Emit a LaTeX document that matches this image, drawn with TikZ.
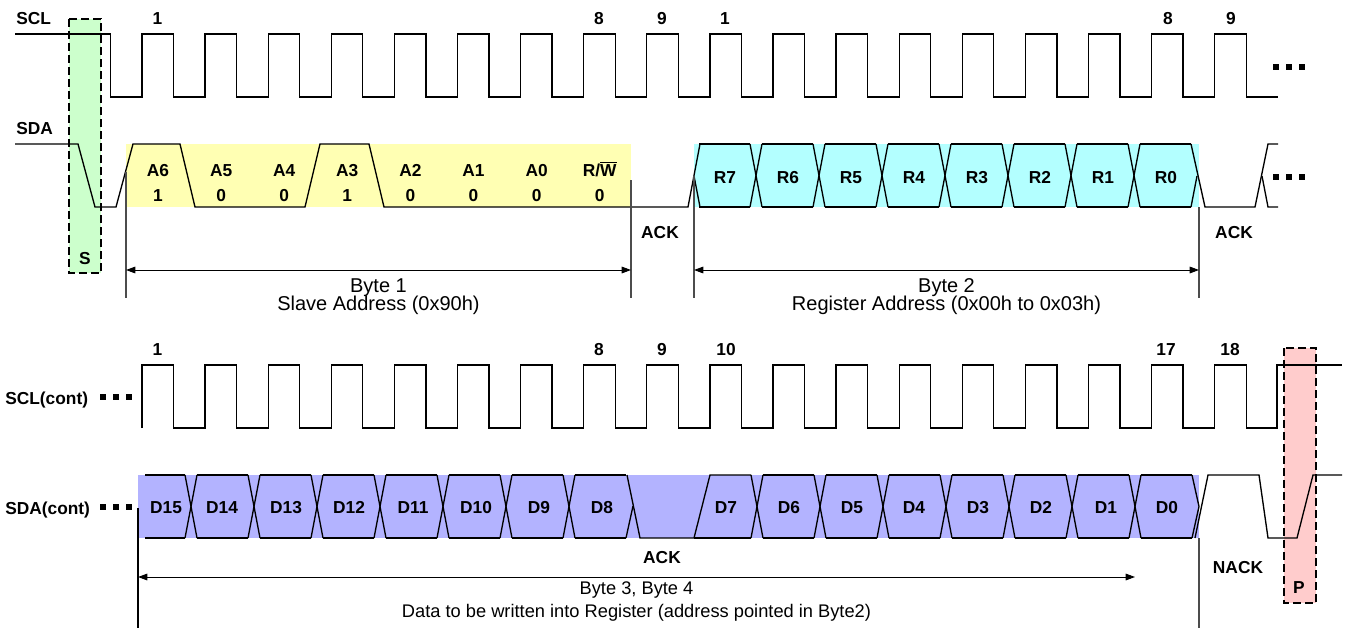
\documentclass[tikz,border=0pt]{standalone}
\usepackage{fontspec}
\setmainfont{Liberation Sans}
\usetikzlibrary{arrows.meta}
\definecolor{adrfill}{HTML}{FFFFB3}
\definecolor{regfill}{HTML}{B3FFFF}
\definecolor{datfill}{HTML}{B3B3FF}
\definecolor{startfill}{HTML}{CCFFCC}
\definecolor{stopfill}{HTML}{FFCCCC}
\newcommand{\rwbar}{R/$\overline{\mbox{W}}$}
\begin{document}
\begin{tikzpicture}[x=0.75pt,y=-0.75pt,
    sig/.style={line width=1pt},
    guide/.style={line width=0.8pt,gray!60!black},
    span/.style={line width=0.7pt,{Triangle[length=7pt,width=5pt]}-{Triangle[length=7pt,width=5pt]}},
    lbl/.style={font=\bfseries\fontsize{13}{15}\selectfont,inner sep=0pt,text height=9.3pt,text depth=0pt},
    txt/.style={font=\fontsize{15}{17}\selectfont,inner sep=0pt,text height=10.7pt,text depth=0pt},
    ftxt/.style={font=\fontsize{13.7}{16}\selectfont,inner sep=0pt,text height=9.8pt,text depth=0pt},
    phasebox/.style={line width=1.2pt,dash pattern=on 6pt off 3pt}]
  \useasboundingbox (0,0) rectangle (1346,628);

  % background fills
  \fill[startfill] (69,19) rectangle (101,273);
  \fill[stopfill] (1284,348) rectangle (1316,603);
  \fill[adrfill] (126,144) rectangle (631,207);
  \fill[regfill] (694,144) rectangle (1199,207);
  \fill[datfill] (138,475) rectangle (1199,538);

  % ---------------- first frame ----------------
  \node[lbl,anchor=west] (scl) at (16,18) {SCL};
  \node[lbl,anchor=west] (sda) at (16,128) {SDA};
  \draw[sig] (15,34) -- (110.5,34) -- (110.5,97)
    foreach \k in {0,...,17} { -- ({142+63.1*\k},97) -- ({142+63.1*\k},34)
      -- ({173.5+63.1*\k},34) -- ({173.5+63.1*\k},97) } -- (1278,97);
  \foreach \x/\n [count=\i] in {157.5/1,599/8,662/9,725/1,1168/8,1231/9}
    \node[lbl] (clk\i) at (\x,18) {\n};

  % address byte
  \draw[sig] (15,144) -- (78,144) -- (95,207) -- (116,207) -- (133,144)
    -- (180,144) -- (195,207) -- (305,207) -- (320,144) -- (369,144)
    -- (384,207) -- (688,207) -- (700,144);
  \foreach \n/\v [count=\i from 0] in {A6/1,A5/0,A4/0,A3/1,A2/0,A1/0,A0/0,\rwbar/0} {
    \node[lbl] (a\i) at ({158+63.1*\i},170) {\n};
    \node[lbl] (av\i) at ({158+63.1*\i},195) {\v};
  }

  % register byte
  \draw[sig] (694,176) -- (700,207);
  \foreach \j in {0,...,7} {
    \draw[sig] ({699+63*\j},144) -- ({750+63*\j},144);
    \draw[sig] ({699+63*\j},207) -- ({750+63*\j},207);
  }
  \foreach \j in {0,...,6} {
    \draw[sig] ({750+63*\j},144) -- ({762+63*\j},207);
    \draw[sig] ({750+63*\j},207) -- ({762+63*\j},144);
  }
  \draw[sig] (1191,207) -- (1197,176);
  \draw[sig] (1191,144) -- (1205,207) -- (1255,207) -- (1268,144) -- (1278,144);
  \draw[sig] (1262,176) -- (1268,207) -- (1278,207);
  \foreach \n [count=\i from 0] in {R7,R6,R5,R4,R3,R2,R1,R0}
    \node[lbl] (r\i) at ({725+63*\i},177) {\n};

  \foreach \x in {1276,1289,1302} {
    \fill (\x-3,64) rectangle (\x+3,70);
    \fill (\x-3,174) rectangle (\x+3,180);
  }
  \node[lbl] (ack1) at (660,232) {ACK};
  \node[lbl] (ack2) at (1234,232) {ACK};

  % byte spans
  \draw[guide] (126,172) -- (126,298);
  \draw[guide] (631,180) -- (631,298);
  \draw[guide] (694,176) -- (694,298);
  \draw[guide] (1199,207) -- (1199,298);
  \coordinate (b1l) at (126,270);
  \coordinate (b1r) at (631,270);
  \coordinate (b2l) at (694,270);
  \coordinate (b2r) at (1199,270);
  \draw[span] (b1l) -- (b1r);
  \draw[span] (b2l) -- (b2r);
  \node[txt] (byte1) at (378.5,285) {Byte 1};
  \node[txt] (slave) at (378.5,303) {Slave Address (0x90h)};
  \node[txt] (byte2) at (946.5,285) {Byte 2};
  \node[txt] (regadr) at (946.5,303) {Register Address (0x00h to 0x03h)};

  % ---------------- second frame ----------------
  \node[lbl,anchor=west] (sclc) at (5,398) {SCL(cont)};
  \node[lbl,anchor=west] (sdac) at (5,508) {SDA(cont)};
  \foreach \x in {103,116,129} {
    \fill (\x-3,394) rectangle (\x+3,400);
    \fill (\x-3,504) rectangle (\x+3,510);
  }
  \draw[sig] (142,428)
    foreach \k in {0,...,17} { -- ({142+63.1*\k},428) -- ({142+63.1*\k},365)
      -- ({173.5+63.1*\k},365) -- ({173.5+63.1*\k},428) }
    -- (1277,428) -- (1277,365) -- (1342,365);
  \foreach \x/\n [count=\i] in {157.5/1,599/8,662/9,726/10,1166/17,1230/18}
    \node[lbl] (cnt\i) at (\x,349) {\n};

  % data bytes
  \draw[sig] (145,475) -- (185,475);
  \draw[sig] (145,538) -- (185,538);
  \foreach \k in {1,...,7} {
    \draw[sig] ({134+63*\k},475) -- ({185+63*\k},475);
    \draw[sig] ({134+63*\k},538) -- ({185+63*\k},538);
  }
  \foreach \k in {0,...,6} {
    \draw[sig] ({185+63*\k},475) -- ({197+63*\k},538);
    \draw[sig] ({185+63*\k},538) -- ({197+63*\k},475);
  }
  \draw[sig] (626,538) -- (633,506);
  \draw[sig] (627,475) -- (640,538) -- (694,538) -- (710,475) -- (751,475);
  \draw[sig] (694,538) -- (751,538);
  \foreach \j in {1,...,7} {
    \draw[sig] ({700+63*\j},475) -- ({751+63*\j},475);
    \draw[sig] ({700+63*\j},538) -- ({751+63*\j},538);
  }
  \foreach \j in {0,...,6} {
    \draw[sig] ({751+63*\j},475) -- ({763+63*\j},538);
    \draw[sig] ({751+63*\j},538) -- ({763+63*\j},475);
  }
  \draw[sig] (1192,475) -- (1199,506.5) -- (1192,538);
  \draw[sig] (1195,538) -- (1208,475) -- (1259,475) -- (1268,538)
    -- (1297,538) -- (1313,475) -- (1342,475);
  \foreach \n/\x [count=\i from 0] in {D15/166,D14/222,D13/286,D12/349,D11/413,D10/476,D9/539,D8/602,
      D7/726,D6/789,D5/852,D4/914,D3/978,D2/1041,D1/1106,D0/1167}
    \node[lbl] (d\i) at (\x,507) {\n};
  \node[lbl] (ack3) at (662,557) {ACK};
  \node[lbl] (nack) at (1238,567) {NACK};

  \draw[sig] (138,508) -- (138,628);
  \draw[guide] (1199,538) -- (1199,628);
  \coordinate (b3l) at (138,577);
  \coordinate (b3r) at (1135,577);
  \draw[span] (b3l) -- (b3r);
  \node[ftxt] (byte34) at (636.5,588) {Byte 3, Byte 4};
  \node[ftxt] (datreg) at (636.5,611) {Data to be written into Register (address pointed in Byte2)};

  % start and stop conditions
  \draw[phasebox] (69,19) rectangle (101,273);
  \node[lbl] (start) at (85,258) {S};
  \draw[phasebox] (1284,348) rectangle (1316,603);
  \node[lbl] (stop) at (1299,587) {P};
\end{tikzpicture}
\end{document}
